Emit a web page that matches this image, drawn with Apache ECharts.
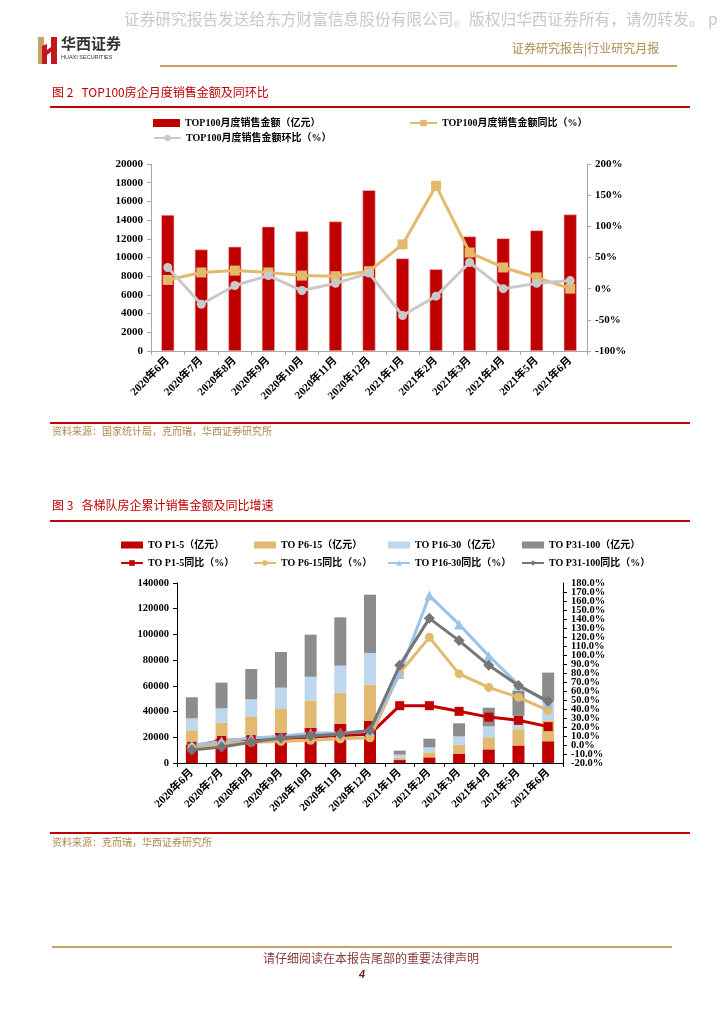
<!DOCTYPE html>
<html><head><meta charset="utf-8">
<script src="https://cdn.jsdelivr.net/npm/echarts/dist/echarts.min.js"></script>
<style>html,body{margin:0;padding:0;background:#fff;}#main{width:724px;height:1024px;}</style>
</head><body><div id="main"></div>
<script>
// ---------- data ----------
const months = ['2020年6月','2020年7月','2020年8月','2020年9月','2020年10月','2020年11月','2020年12月','2021年1月','2021年2月','2021年3月','2021年4月','2021年5月','2021年6月'];
// Figure 2
const top100Sales = [14550, 10850, 11150, 13300, 12800, 13850, 17200, 9900, 8750, 12250, 12050, 12900, 14600];
const top100YoY   = [14, 26, 29, 26, 21, 20, 28, 71, 165, 58, 34, 18, 0];
const top100MoM   = [34, -25, 5, 21, -3, 8.5, 25, -43, -12, 42, 0, 8.5, 13];
// Figure 3 (segments of the stacked cumulative sales, 亿元)
const p1_5    = [14300, 19000, 20800, 23600, 27200, 30600, 32900, 2300, 4400, 7300, 10600, 13600, 16900];
const p6_15   = [11100, 12400, 15500, 18900, 21500, 24100, 28000, 1800, 3900, 7000, 9400, 12700, 16300];
const p16_30  = [9300, 11100, 13200, 16100, 18400, 21000, 24700, 2400, 3900, 6400, 8500, 10500, 15300];
const p31_100 = [16400, 20000, 23600, 27700, 32700, 37600, 45300, 3100, 6700, 10200, 14500, 19500, 21800];
const p1_5YoY    = [-1.5, 5, 6, 7, 9, 10.5, 12, 43.7, 43.7, 37.4, 31, 27.4, 20.4];
const p6_15YoY   = [-2.6, 1, 3, 4, 5.2, 7, 8, 80, 119.6, 79, 64, 53, 38.5];
const p16_30YoY  = [-0.4, 4, 7.8, 9.6, 13, 13.7, 15.2, 79, 166, 134, 99, 67, 47];
const p31_100YoY = [-5.6, -2.2, 3, 7.8, 10, 12.2, 16.3, 88.5, 140.7, 116, 88.5, 66, 48.5];

// ---------- styles ----------
const SERIF = '"Liberation Serif","Noto Sans CJK SC",serif';
const CJK = '"Noto Sans CJK SC",sans-serif';
const RED = '#c00000', GOLD = '#e3b96c', LGREY = '#c9c9c9', LBLUE = '#bdd7ee', LBLUE_LINE = '#9dc3e6', DGREY = '#8c8c8c', DGREY_LINE = '#767676';
const axisLbl = {color:'#000', fontFamily:SERIF, fontWeight:'bold', fontSize:11};
const legendText = {color:'#000', fontFamily:SERIF, fontWeight:'bold', fontSize:10};

function xAx(gridIndex, lineColor){
  return {type:'category', gridIndex, data:months, boundaryGap:true,
    axisLine:{lineStyle:{color:lineColor, width:1}},
    axisTick:{show:true, alignWithLabel:false, length:4, lineStyle:{color:lineColor}},
    axisLabel:Object.assign({interval:0, rotate:45, margin:8}, axisLbl)};
}
function yAx(gridIndex, min, max, interval, fmt, pos, lineColor, fs, showMinMax){
  return {type:'value', gridIndex, min, max, interval, position:pos,
    splitLine:{show:false},
    axisLine:{show:true, lineStyle:{color:lineColor}},
    axisTick:{show:true, length:4, lineStyle:{color:lineColor}},
    axisLabel:Object.assign({}, axisLbl, {fontSize:fs, margin:8, formatter:fmt, showMinLabel:showMinMax, showMaxLabel:showMinMax, hideOverlap:false})};
}
const pctFmt = v => v.toFixed(1) + '%';

const chart = echarts.init(document.getElementById('main'));

const graphic = [
  // watermark
  {type:'text', left:124, top:11, style:{text:'证券研究报告发送给东方财富信息股份有限公司。版权归华西证券所有，请勿转发。 p', fill:'#c8c8c8', font:'15.7px '+CJK}},
  // logo
  {type:'polygon', shape:{points:[[38,37],[44,37],[44,64],[38,64]]}, style:{fill:'#c9a063'}},
  {type:'polygon', shape:{points:[[42,46],[47,44],[47,64],[42,64]]}, style:{fill:'#c4161c'}},
  {type:'polygon', shape:{points:[[51,37],[57,37],[57,64],[51,64]]}, style:{fill:'#c4161c'}},
  {type:'polygon', shape:{points:[[47,50],[51,47],[51,52],[47,55]]}, style:{fill:'#c4161c'}},
  {type:'text', left:61, top:36, style:{text:'华西证券', fill:'#333', font:'bold 15px '+CJK}},
  {type:'text', left:61, top:54, style:{text:'HUAXI SECURITIES', fill:'#333', font:'5.5px "Liberation Sans",sans-serif'}},
  {type:'text', left:512, top:42, style:{text:'证券研究报告|行业研究月报', fill:'#b08850', font:'12px '+CJK}},
  {type:'rect', shape:{x:160, y:65, width:517, height:2}, style:{fill:'#c9a063'}},
  // figure 2 title
  {type:'text', left:52, top:86, style:{text:'图 2   TOP100房企月度销售金额及同环比', fill:'#c00000', font:'12px '+CJK}},
  {type:'rect', shape:{x:50, y:106, width:640, height:2}, style:{fill:'#c00000'}},
  {type:'rect', shape:{x:50, y:422, width:640, height:2}, style:{fill:'#c00000'}},
  {type:'text', left:52, top:426, style:{text:'资料来源：国家统计局，克而瑞，华西证券研究所', fill:'#b08850', font:'10px '+CJK}},
  // figure 3 title
  {type:'text', left:52, top:499, style:{text:'图 3   各梯队房企累计销售金额及同比增速', fill:'#c00000', font:'12px '+CJK}},
  {type:'rect', shape:{x:50, y:520, width:640, height:2}, style:{fill:'#c00000'}},
  {type:'rect', shape:{x:50, y:832, width:640, height:2}, style:{fill:'#c00000'}},
  {type:'text', left:52, top:837, style:{text:'资料来源：克而瑞，华西证券研究所', fill:'#b08850', font:'10px '+CJK}},
  // footer
  {type:'rect', shape:{x:52, y:946, width:620, height:2}, style:{fill:'#c9a063'}},
  {type:'text', left:263, top:952, style:{text:'请仔细阅读在本报告尾部的重要法律声明', fill:'#8b3a3a', font:'12px '+CJK}},
  {type:'text', left:359, top:969, style:{text:'4', fill:'#7a1f1f', font:'italic bold 11px "Liberation Sans",sans-serif'}}
];

const option = {
  animation:false,
  backgroundColor:'#fff',
  graphic,
  legend:[
    {left:148, top:113, itemWidth:27, itemHeight:8, itemGap:10, textStyle:legendText, data:[{name:'TOP100月度销售金额（亿元）', icon:'rect', itemStyle:{borderWidth:0}}]},
    {left:404, top:113, itemWidth:27, itemHeight:8, textStyle:legendText, data:['TOP100月度销售金额同比（%）']},
    {left:148, top:128, itemWidth:27, itemHeight:8, textStyle:legendText, data:['TOP100月度销售金额环比（%）']},
    {left:115, top:535, orient:'vertical', itemGap:8, itemWidth:22, itemHeight:7, textStyle:legendText, data:[{name:'TO P1-5（亿元）', icon:'rect'}, 'TO P1-5同比（%）']},
    {left:248, top:535, orient:'vertical', itemGap:8, itemWidth:22, itemHeight:7, textStyle:legendText, data:[{name:'TO P6-15（亿元）', icon:'rect'}, 'TO P6-15同比（%）']},
    {left:382, top:535, orient:'vertical', itemGap:8, itemWidth:22, itemHeight:7, textStyle:legendText, data:[{name:'TO P16-30（亿元）', icon:'rect'}, 'TO P16-30同比（%）']},
    {left:516, top:535, orient:'vertical', itemGap:8, itemWidth:22, itemHeight:7, textStyle:legendText, data:[{name:'TO P31-100（亿元）', icon:'rect'}, 'TO P31-100同比（%）']}
  ],
  grid:[
    {left:151, right:724-587, top:164, bottom:1024-351, containLabel:false},
    {left:177, right:724-563, top:583, bottom:1024-763, containLabel:false}
  ],
  xAxis:[xAx(0,'#a6a6a6'), xAx(1,'#000')],
  yAxis:[
    yAx(0, 0, 20000, 2000, v=>String(v), 'left', '#a6a6a6', 11, true),
    yAx(0, -100, 200, 50, v=>v+'%', 'right', '#a6a6a6', 11, true),
    yAx(1, 0, 140000, 20000, v=>String(v), 'left', '#000', 10.5, true),
    yAx(1, -20, 180, 10, pctFmt, 'right', '#000', 10.5, false),
    // companion axis carrying only the end labels (-20.0% and 180.0%) of the dense right axis
    {type:'value', gridIndex:1, min:-20, max:180, interval:200, position:'right', splitLine:{show:false},
      axisLine:{show:false}, axisTick:{show:false},
      axisLabel:Object.assign({}, axisLbl, {fontSize:10.5, margin:8, formatter:pctFmt, showMinLabel:true, showMaxLabel:true})}
  ],
  series:[
    {name:'TOP100月度销售金额（亿元）', type:'bar', xAxisIndex:0, yAxisIndex:0, data:top100Sales, barWidth:13,
      itemStyle:{color:RED, borderColor:'#f0b8b8', borderWidth:0.6}},
    {name:'TOP100月度销售金额同比（%）', type:'line', xAxisIndex:0, yAxisIndex:1, data:top100YoY,
      symbol:'rect', symbolSize:10, lineStyle:{color:GOLD, width:3}, itemStyle:{color:GOLD}, z:3},
    {name:'TOP100月度销售金额环比（%）', type:'line', xAxisIndex:0, yAxisIndex:1, data:top100MoM,
      symbol:'circle', symbolSize:9, lineStyle:{color:LGREY, width:3}, itemStyle:{color:LGREY}, z:4},

    {name:'TO P1-5（亿元）', type:'bar', stack:'s', xAxisIndex:1, yAxisIndex:2, data:p1_5, barWidth:12, itemStyle:{color:RED}},
    {name:'TO P6-15（亿元）', type:'bar', stack:'s', xAxisIndex:1, yAxisIndex:2, data:p6_15, barWidth:12, itemStyle:{color:'#e2b970'}},
    {name:'TO P16-30（亿元）', type:'bar', stack:'s', xAxisIndex:1, yAxisIndex:2, data:p16_30, barWidth:12, itemStyle:{color:LBLUE}},
    {name:'TO P31-100（亿元）', type:'bar', stack:'s', xAxisIndex:1, yAxisIndex:2, data:p31_100, barWidth:12, itemStyle:{color:DGREY}},
    {name:'TO P1-5同比（%）', type:'line', xAxisIndex:1, yAxisIndex:3, data:p1_5YoY,
      symbol:'rect', symbolSize:9, lineStyle:{color:RED, width:3}, itemStyle:{color:RED}, z:3},
    {name:'TO P6-15同比（%）', type:'line', xAxisIndex:1, yAxisIndex:3, data:p6_15YoY,
      symbol:'circle', symbolSize:9, lineStyle:{color:GOLD, width:3}, itemStyle:{color:GOLD}, z:3},
    {name:'TO P16-30同比（%）', type:'line', xAxisIndex:1, yAxisIndex:3, data:p16_30YoY,
      symbol:'triangle', symbolSize:10, lineStyle:{color:LBLUE_LINE, width:3}, itemStyle:{color:LBLUE_LINE}, z:3},
    {name:'TO P31-100同比（%）', type:'line', xAxisIndex:1, yAxisIndex:3, data:p31_100YoY,
      symbol:'diamond', symbolSize:11, lineStyle:{color:DGREY_LINE, width:3}, itemStyle:{color:DGREY_LINE}, z:4}
  ]
};
chart.setOption(option);
</script></body></html>
